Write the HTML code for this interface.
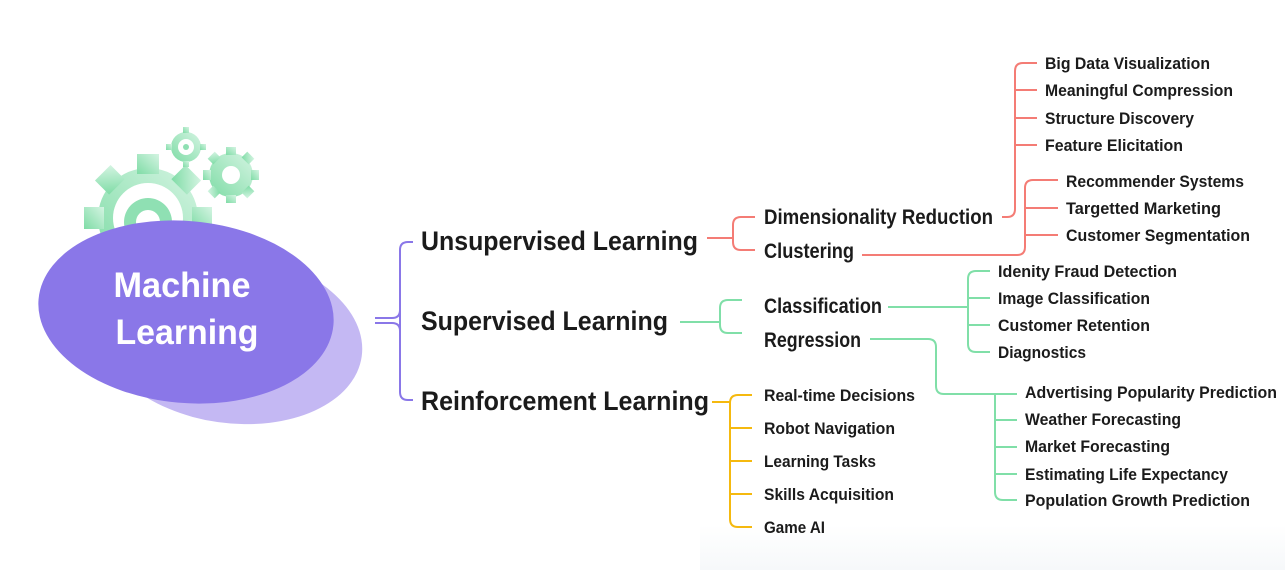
<!DOCTYPE html>
<html><head><meta charset="utf-8"><style>
html,body{margin:0;padding:0;background:#fff;}
svg{display:block;}
text{font-family:"Liberation Sans Narrow","Liberation Sans",sans-serif;fill:#1b1b1b;}
</style></head><body>
<svg width="1285" height="570" viewBox="0 0 1285 570" xmlns="http://www.w3.org/2000/svg">
<defs>
<linearGradient id="g1" x1="0" y1="1" x2="1" y2="0">
<stop offset="0" stop-color="#7fdca6"/><stop offset="1" stop-color="#d4f4e2"/></linearGradient>
<linearGradient id="bg" x1="0" y1="0" x2="0" y2="1">
<stop offset="0" stop-color="#ffffff"/><stop offset="1" stop-color="#f6f8fa"/></linearGradient>
</defs>
<rect x="700" y="525" width="585" height="45" fill="url(#bg)"/>
<!-- gears -->
<g fill="url(#g1)">
<circle cx="148" cy="218" r="50"/>
<g transform="translate(148,218)">
<rect x="-11" y="-64" width="22" height="20"/><rect x="-11" y="44" width="22" height="20"/>
<rect x="-64" y="-11" width="20" height="22"/><rect x="44" y="-11" width="20" height="22"/>
<rect x="-11" y="-64" width="22" height="20" transform="rotate(45)"/><rect x="-11" y="-64" width="22" height="20" transform="rotate(-45)"/>
<rect x="-11" y="-64" width="22" height="20" transform="rotate(135)"/><rect x="-11" y="-64" width="22" height="20" transform="rotate(-135)"/>
</g>
<circle cx="231" cy="175" r="22"/>
<g transform="translate(231,175)">
<rect x="-5" y="-28" width="10" height="8"/><rect x="-5" y="20" width="10" height="8"/>
<rect x="-28" y="-5" width="8" height="10"/><rect x="20" y="-5" width="8" height="10"/>
<rect x="-5" y="-28" width="10" height="8" transform="rotate(45)"/><rect x="-5" y="-28" width="10" height="8" transform="rotate(-45)"/>
<rect x="-5" y="-28" width="10" height="8" transform="rotate(135)"/><rect x="-5" y="-28" width="10" height="8" transform="rotate(-135)"/>
</g>
<circle cx="186" cy="147" r="15"/>
<g transform="translate(186,147)">
<rect x="-3" y="-20" width="6" height="6"/><rect x="-3" y="14" width="6" height="6"/>
<rect x="-20" y="-3" width="6" height="6"/><rect x="14" y="-3" width="6" height="6"/>
</g>
</g>
<circle cx="148" cy="218" r="35" fill="#fff"/>
<circle cx="148" cy="222" r="24" fill="#8fe0b3"/>
<circle cx="148" cy="222" r="12" fill="#fff"/>
<circle cx="231" cy="175" r="9" fill="#fff"/>
<circle cx="186" cy="147" r="8" fill="#fff"/>
<circle cx="186" cy="147" r="3" fill="#8fe0b3"/>
<!-- ellipses -->
<ellipse cx="230" cy="338" rx="133" ry="85" fill="#c4b8f3" transform="rotate(8 230 338)"/>
<ellipse cx="186" cy="312" rx="148" ry="91" fill="#8a77e8" transform="rotate(5 186 312)"/>
<text x="182" y="297" font-size="35" font-weight="bold" text-anchor="middle" style="fill:#fff" textLength="137" lengthAdjust="spacingAndGlyphs">Machine</text>
<text x="187" y="344" font-size="35" font-weight="bold" text-anchor="middle" style="fill:#fff" textLength="143" lengthAdjust="spacingAndGlyphs">Learning</text>
<!-- purple bracket -->
<g fill="none" stroke="#8a77e8" stroke-width="2">
<path d="M375 318H392M375 323H392M413 242H408Q400 242 400 250V392Q400 400 408 400H413"/>
<path d="M392 318Q400 318 400 310M392 323Q400 323 400 331"/>
</g>
<g font-size="27" font-weight="bold">
<text x="421" y="250" textLength="277" lengthAdjust="spacingAndGlyphs">Unsupervised Learning</text>
<text x="421" y="330" textLength="247" lengthAdjust="spacingAndGlyphs">Supervised Learning</text>
<text x="421" y="410" textLength="288" lengthAdjust="spacingAndGlyphs">Reinforcement Learning</text>
</g>
<!-- red -->
<g fill="none" stroke="#f47c75" stroke-width="2">
<path d="M707 238H733M755 217H741Q733 217 733 225V242Q733 250 741 250H755"/>
<path d="M1002 217H1007Q1015 217 1015 209V71Q1015 63 1023 63H1037M1015 90H1037M1015 118H1037M1015 145H1037"/>
<path d="M862 255H1017Q1025 255 1025 247V188Q1025 180 1033 180H1058M1025 208H1058M1025 235H1058"/>
</g>
<g font-size="21" font-weight="bold">
<text x="764" y="224" textLength="229" lengthAdjust="spacingAndGlyphs">Dimensionality Reduction</text>
<text x="764" y="258" textLength="90" lengthAdjust="spacingAndGlyphs">Clustering</text>
<text x="764" y="313" textLength="118" lengthAdjust="spacingAndGlyphs">Classification</text>
<text x="764" y="347" textLength="97" lengthAdjust="spacingAndGlyphs">Regression</text>
</g>
<g font-size="17" font-weight="bold">
<text x="1045" y="69" textLength="165" lengthAdjust="spacingAndGlyphs">Big Data Visualization</text>
<text x="1045" y="96" textLength="188" lengthAdjust="spacingAndGlyphs">Meaningful Compression</text>
<text x="1045" y="124" textLength="149" lengthAdjust="spacingAndGlyphs">Structure Discovery</text>
<text x="1045" y="151" textLength="138" lengthAdjust="spacingAndGlyphs">Feature Elicitation</text>
<text x="1066" y="187" textLength="178" lengthAdjust="spacingAndGlyphs">Recommender Systems</text>
<text x="1066" y="214" textLength="155" lengthAdjust="spacingAndGlyphs">Targetted Marketing</text>
<text x="1066" y="241" textLength="184" lengthAdjust="spacingAndGlyphs">Customer Segmentation</text>
<text x="998" y="277" textLength="179" lengthAdjust="spacingAndGlyphs">Idenity Fraud Detection</text>
<text x="998" y="304" textLength="152" lengthAdjust="spacingAndGlyphs">Image Classification</text>
<text x="998" y="331" textLength="152" lengthAdjust="spacingAndGlyphs">Customer Retention</text>
<text x="998" y="358" textLength="88" lengthAdjust="spacingAndGlyphs">Diagnostics</text>
<text x="1025" y="398" textLength="252" lengthAdjust="spacingAndGlyphs">Advertising Popularity Prediction</text>
<text x="1025" y="425" textLength="156" lengthAdjust="spacingAndGlyphs">Weather Forecasting</text>
<text x="1025" y="452" textLength="145" lengthAdjust="spacingAndGlyphs">Market Forecasting</text>
<text x="1025" y="480" textLength="203" lengthAdjust="spacingAndGlyphs">Estimating Life Expectancy</text>
<text x="1025" y="506" textLength="225" lengthAdjust="spacingAndGlyphs">Population Growth Prediction</text>
<text x="764" y="401" textLength="151" lengthAdjust="spacingAndGlyphs">Real-time Decisions</text>
<text x="764" y="434" textLength="131" lengthAdjust="spacingAndGlyphs">Robot Navigation</text>
<text x="764" y="467" textLength="112" lengthAdjust="spacingAndGlyphs">Learning Tasks</text>
<text x="764" y="500" textLength="130" lengthAdjust="spacingAndGlyphs">Skills Acquisition</text>
<text x="764" y="533" textLength="61" lengthAdjust="spacingAndGlyphs">Game AI</text>
</g>
<!-- green -->
<g fill="none" stroke="#80dfa8" stroke-width="2">
<path d="M680 322H720M742 300H728Q720 300 720 308V325Q720 333 728 333H742"/>
<path d="M888 307H968M990 271H976Q968 271 968 279V344Q968 352 976 352H990M968 298H990M968 325H990"/>
<path d="M870 339H928Q936 339 936 347V386Q936 394 944 394H1017M995 394V492Q995 500 1003 500H1017M995 420H1017M995 447H1017M995 474H1017"/>
</g>
<!-- yellow -->
<g fill="none" stroke="#f5b90f" stroke-width="2">
<path d="M712 402H730M752 395H738Q730 395 730 403V519Q730 527 738 527H752M730 428H752M730 461H752M730 494H752"/>
</g>
</svg>
</body></html>
